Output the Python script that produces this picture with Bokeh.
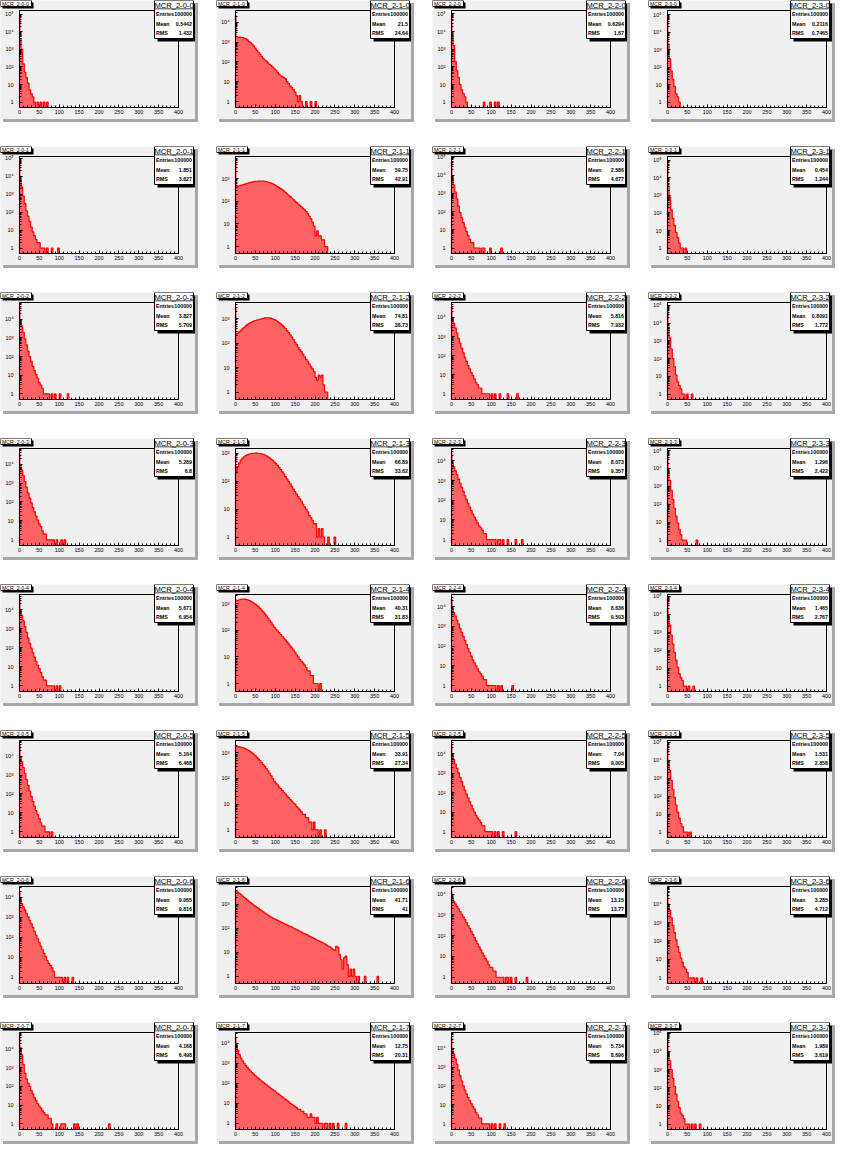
import numpy as np
from bokeh.plotting import figure
from bokeh.layouts import column, row
from bokeh.models import Range1d, FixedTicker, BoxAnnotation, Label, BasicTickFormatter
from bokeh.embed import file_html
from bokeh.resources import INLINE

# ---------------- data (counts per unit-wide bin) -------------
# bin k covers [BIN_EDGES[k], BIN_EDGES[k+1])
BIN_EDGES = [0, 1] + list(range(4, 404, 4))

h_2_0_0 = [87000, 4000, 1000, 150, 50, 25, 12, 5, 3, 2, 1, 0, 1, 0, 1, 0, 1, 0, 1]
h_2_1_0 = [23000, 1800, 1800, 1780, 1750, 1700, 1600, 1500, 1300, 1100, 950, 800, 650, 500, 380, 300,
           240, 190, 150, 125, 110, 90, 75, 65, 55, 45, 38, 30, 24, 20, 18, 16, 14, 10, 8, 6, 5, 4, 3,
           2, 1, 2, 1, 0, 0, 1, 0, 0, 1, 0, 0, 1]
h_2_2_0 = [85000, 5000, 1600, 200, 60, 25, 10, 5, 3, 2, 1, 0, 0, 0, 0, 0, 0, 0, 0, 0, 0, 1, 0, 0, 0,
           1, 0, 0, 1, 0, 1]
h_2_3_0 = [93000, 2000, 300, 60, 20, 8, 3, 2, 1]

h_2_0_1 = [70000, 6000, 2500, 800, 300, 120, 60, 30, 15, 8, 5, 3, 2, 2, 1, 1, 1, 0, 1, 0, 0, 1, 0, 0, 0, 1]
h_2_1_1 = [5900, 430, 455, 480, 505, 530, 555, 590, 625, 655, 680, 705, 730, 750, 765, 775, 780, 785,
           780, 765, 740, 710, 670, 630, 585, 540, 490, 445, 400, 360, 325, 285, 250, 215, 185, 160,
           140, 120, 102, 88, 76, 66, 57, 49, 42, 36, 29, 22, 17, 12, 8, 3, 5, 3, 3, 2, 2, 1, 1]
h_2_2_1 = [60000, 7000, 3000, 1200, 500, 200, 90, 45, 25, 14, 8, 5, 3, 2, 2, 1, 1, 1, 1, 0, 1, 1, 0, 0,
           0, 1, 0, 0, 0, 0, 0, 0, 1]
h_2_3_1 = [88000, 3500, 800, 150, 50, 20, 8, 4, 2, 1, 1, 0, 1]

h_2_0_2 = [45000, 9000, 4500, 2000, 900, 420, 200, 100, 55, 30, 18, 11, 7, 4, 3, 2, 1, 1, 1, 1, 0, 1,
           0, 1, 0, 0, 1, 0, 0, 0, 0, 1]
h_2_1_2 = [3000, 240, 260, 300, 340, 390, 440, 510, 580, 640, 700, 750, 800, 850, 880, 920, 960, 1000,
           1040, 1080, 1100, 1100, 1080, 1040, 980, 920, 860, 780, 700, 620, 540, 470, 400, 330, 270,
           220, 180, 140, 110, 90, 70, 55, 45, 36, 28, 22, 18, 14, 11, 9, 7, 4, 3, 5, 4, 5, 2, 1, 1]
h_2_2_2 = [35000, 9000, 5000, 2800, 1500, 800, 450, 250, 140, 80, 50, 30, 20, 13, 9, 6, 4, 3, 2, 2, 1,
           1, 1, 1, 1, 0, 1, 0, 1, 0, 0, 1, 0, 0, 0, 0, 1, 0, 0, 0, 0, 0, 1]
h_2_3_2 = [80000, 6000, 1500, 350, 100, 35, 12, 5, 3, 2, 1, 1, 0, 1, 0, 0, 1]

h_2_0_3 = [38000, 9000, 5000, 2500, 1200, 600, 300, 160, 90, 50, 30, 18, 11, 7, 5, 3, 2, 2, 1, 1, 1, 1,
           1, 0, 1, 0, 0, 1, 0, 1]
h_2_1_3 = [750, 200, 330, 450, 560, 660, 740, 810, 870, 920, 950, 975, 990, 1000, 1000, 990, 970, 945,
           900, 850, 800, 740, 680, 610, 550, 480, 420, 365, 310, 260, 215, 180, 145, 120, 98, 80, 64,
           52, 42, 34, 28, 23, 19, 15, 12, 10, 8, 6, 5, 4, 3, 3, 1, 2, 1, 2, 1, 0, 0, 1, 0, 0, 0, 1]
h_2_2_3 = [25000, 8000, 5000, 3200, 2000, 1200, 750, 450, 280, 170, 110, 70, 45, 30, 20, 14, 10, 7, 5,
           4, 3, 2, 2, 1, 1, 1, 1, 1, 1, 0, 1, 1, 0, 1, 0, 0, 1, 0, 0, 0, 0, 1, 0, 0, 0, 1]
h_2_3_3 = [72000, 7500, 2200, 600, 180, 60, 22, 9, 4, 2, 1, 1, 1, 0, 0, 0, 0, 0, 0, 1]

h_2_0_4 = [36000, 9000, 5000, 2600, 1300, 650, 330, 170, 95, 55, 32, 19, 12, 8, 5, 3, 2, 2, 1, 1, 1, 1,
           1, 0, 1, 0, 1]
h_2_1_4 = [1500, 1250, 1350, 1420, 1470, 1500, 1500, 1470, 1420, 1350, 1270, 1170, 1070, 970, 870,
           770, 670, 580, 500, 420, 350, 290, 240, 200, 160, 130, 110, 95, 82, 70, 60, 51, 44, 37, 31,
           26, 22, 18, 15, 12, 10, 8, 7, 6, 5, 4, 3, 3, 2, 2, 1, 1, 1, 0, 1]
h_2_2_4 = [24000, 8000, 5000, 3300, 2100, 1300, 800, 500, 310, 190, 120, 75, 48, 31, 20, 14, 10, 7, 5,
           4, 3, 2, 2, 1, 1, 1, 1, 1, 1, 0, 1, 0, 1, 0, 0, 0, 0, 0, 0, 1]
h_2_3_4 = [70000, 8000, 2500, 700, 220, 75, 28, 11, 5, 3, 2, 1, 1, 0, 1, 0, 0, 1]

h_2_0_5 = [38000, 9000, 5000, 2500, 1200, 580, 280, 140, 75, 40, 23, 13, 8, 5, 3, 2, 2, 1, 1, 1, 0, 1]
h_2_1_5 = [2000, 1750, 1750, 1720, 1670, 1600, 1520, 1420, 1320, 1210, 1100, 990, 880, 770, 670, 580,
           500, 420, 350, 295, 245, 200, 160, 128, 100, 78, 66, 56, 47, 40, 34, 29, 25, 21, 18, 15, 13,
           11, 10, 8, 7, 6, 5, 4, 4, 3, 3, 2, 2, 1, 2, 1, 1, 0, 1, 0, 0, 1]
h_2_2_5 = [28000, 8500, 5000, 3000, 1800, 1050, 620, 370, 220, 135, 85, 55, 35, 23, 15, 10, 7, 5, 4, 3,
           2, 2, 1, 1, 1, 1, 1, 0, 1, 0, 1, 0, 0, 1, 0, 0, 0, 0, 0, 0, 0, 1]
h_2_3_5 = [68000, 8500, 2700, 750, 240, 85, 32, 13, 6, 3, 2, 1, 1, 1, 0, 1]

h_2_0_6 = [20000, 7000, 4800, 3300, 2300, 1550, 1050, 700, 470, 310, 200, 130, 85, 55, 36, 24, 16, 11,
           7, 5, 4, 3, 2, 1, 1, 1, 1, 1, 0, 1, 0, 1, 0, 0, 1]
h_2_1_6 = [3600, 3500, 3200, 2900, 2550, 2250, 2000, 1750, 1550, 1350, 1200, 1060, 950, 850, 760, 680,
           610, 545, 490, 440, 395, 355, 325, 295, 270, 250, 232, 215, 200, 186, 173, 160, 150, 139,
           128, 120, 112, 104, 96, 89, 82, 76, 70, 64, 60, 56, 52, 48, 44, 41, 38, 35, 32, 30, 28, 26,
           24, 22, 20, 18, 17, 15, 13, 12, 18, 16, 8, 5, 2, 6, 7, 3, 1, 2, 1, 2, 1, 0, 1, 0, 0, 0, 1,
           0, 0, 0, 0, 0, 0, 0, 1]
h_2_2_6 = [14000, 6000, 4500, 3400, 2600, 1950, 1450, 1080, 800, 590, 430, 310, 225, 160, 115, 82, 58,
           41, 29, 21, 15, 11, 8, 6, 4, 3, 3, 2, 2, 1, 1, 1, 1, 1, 0, 1, 1, 0, 1, 0, 0, 1, 0, 0, 0, 0,
           0, 0, 1]
h_2_3_6 = [50000, 10000, 4500, 1800, 700, 280, 115, 50, 24, 12, 7, 4, 3, 2, 1, 1, 1, 1, 0, 1, 0, 0, 1]

h_2_0_7 = [43000, 12000, 5000, 1500, 500, 250, 150, 100, 60, 40, 25, 18, 12, 9, 7, 5, 4, 3, 3, 2, 2, 1,
           0, 0, 1, 0, 0, 1, 1, 1, 0, 0, 0, 0, 0, 1, 0, 1, 0, 0, 0, 0, 0, 0, 0, 0, 0, 0, 0, 0, 0, 0,
           0, 0, 0, 0, 0, 1]
h_2_1_7 = [20000, 8000, 4500, 2700, 1800, 1300, 1000, 780, 620, 500, 410, 340, 285, 240, 205, 175, 150,
           130, 112, 97, 84, 73, 63, 55, 48, 42, 36, 32, 28, 24, 21, 18, 16, 14, 12, 10, 9, 8, 7, 6,
           5, 5, 4, 4, 3, 3, 2, 2, 3, 2, 2, 1, 2, 1, 1, 1, 0, 1, 1, 0, 1, 0, 1, 0, 0, 1, 0, 0, 0, 0, 1]
h_2_2_7 = [38000, 9000, 5000, 2700, 1400, 700, 350, 180, 100, 60, 38, 25, 17, 12, 8, 6, 4, 3, 2, 2, 1,
           1, 1, 1, 1, 0, 1, 0, 1, 0, 0, 1, 0, 0, 1]
h_2_3_7 = [62000, 9500, 3200, 1000, 330, 120, 45, 18, 8, 4, 3, 2, 1, 1, 1, 0, 1, 0, 1, 0, 0, 1]

# statistics boxes (per module, channels 0..7)
mean_2_0 = ["0.5442", "1.851", "3.827", "5.289", "5.671", "5.164", "9.065", "4.168"]
rms_2_0 = ["1.432", "3.627", "5.709", "6.8", "6.954", "6.468", "9.816", "6.498"]
mean_2_1 = ["21.5", "59.75", "74.81", "66.89", "40.31", "33.91", "41.71", "12.75"]
rms_2_1 = ["24.64", "42.91", "38.73", "33.62", "31.83", "27.34", "41", "20.31"]
mean_2_2 = ["0.6294", "2.586", "5.816", "8.073", "8.636", "7.04", "13.15", "5.734"]
rms_2_2 = ["1.67", "4.677", "7.932", "9.357", "9.503", "9.005", "13.77", "8.696"]
mean_2_3 = ["0.2116", "0.454", "0.8091", "1.296", "1.465", "1.531", "3.285", "1.989"]
rms_2_3 = ["0.7465", "1.244", "1.772", "2.422", "2.767", "2.858", "4.712", "3.619"]
entries = "100000"

modules = ["2-0", "2-1", "2-2", "2-3"]
channels = ["0", "1", "2", "3", "4", "5", "6", "7"]

x_ticks = [0, 50, 100, 150, 200, 250, 300, 350, 400]
x_tick_labels = ["0", "50", "100", "150", "200", "250", "300", "350", "400"]
y_ticks = [1, 10, 100, 1000, 10000, 100000]
y_tick_labels = ["1", "10", "10\u00b2", "10\u00b3", "10\u2074", "10\u2075"]

hists = [
    [h_2_0_0, h_2_1_0, h_2_2_0, h_2_3_0],
    [h_2_0_1, h_2_1_1, h_2_2_1, h_2_3_1],
    [h_2_0_2, h_2_1_2, h_2_2_2, h_2_3_2],
    [h_2_0_3, h_2_1_3, h_2_2_3, h_2_3_3],
    [h_2_0_4, h_2_1_4, h_2_2_4, h_2_3_4],
    [h_2_0_5, h_2_1_5, h_2_2_5, h_2_3_5],
    [h_2_0_6, h_2_1_6, h_2_2_6, h_2_3_6],
    [h_2_0_7, h_2_1_7, h_2_2_7, h_2_3_7],
]
means = [mean_2_0, mean_2_1, mean_2_2, mean_2_3]
rmss = [rms_2_0, rms_2_1, rms_2_2, rms_2_3]

# ---------------- styling / geometry ----------------
PAD = "#f0f0f0"
BEVEL = "#a8a8a8"
FILL = "#ff6262"
LINE = "#ff0000"
FONT = "Liberation Sans"
Y_MIN = 0.5

COL_W = [216, 216, 216, 184]
ROW_H = [146, 146, 146, 146, 146, 146, 146, 119]
FIG_W = 195
FIG_H = 119
FX0, FXW = 19, 159     # canvas x of x=0, pixel width of 0..400
FY0, FYH = 10, 97      # canvas y of the top of the histogram frame, its pixel height
STATS_LEFT = [154, 154, 154, 142]   # the last column is narrower, like the cut-off original


def add_box(p, cx0, cy0, cx1, cy1, fill, line=None):
    p.add_layout(BoxAnnotation(
        left=cx0, right=cx1, top=FIG_H - cy0, bottom=FIG_H - cy1,
        left_units="screen", right_units="screen", top_units="screen", bottom_units="screen",
        fill_color=fill, fill_alpha=1.0,
        line_color=line if line else None, line_alpha=1.0, line_width=1,
        level="annotation"))


def add_text(p, cx, cy, text, size, align="left", bold=False):
    p.add_layout(Label(
        x=cx, y=FIG_H - cy, x_units="screen", y_units="screen", text=text,
        text_font=FONT, text_font_size=size, text_align=align, text_baseline="middle",
        text_font_style="bold" if bold else "normal", text_color="black"))


def make_panel(r, c):
    counts = hists[r][c]
    name = "MCR_" + modules[c] + "-" + channels[r]
    fig_w = min(FIG_W, COL_W[c])
    top_log = np.log10(max(counts))
    y_top = 10 ** (top_log + 0.05 * (top_log - np.log10(Y_MIN)))

    # the whole pad is the plot area; axes sit at fixed positions inside it
    upp = 400.0 / FXW
    x_range = Range1d(-FX0 * upp, 400 + (fig_w - FX0 - FXW) * upp)
    lo, hi = np.log10(Y_MIN), np.log10(y_top)
    dpp = (hi - lo) / FYH
    y_range = Range1d(10 ** (lo - (FIG_H - FY0 - FYH) * dpp), 10 ** (hi + FY0 * dpp))

    p = figure(width=fig_w, height=FIG_H, x_range=x_range, y_range=y_range,
               y_axis_type="log", output_backend="svg", toolbar_location=None,
               min_border_left=0, min_border_right=0, min_border_top=0, min_border_bottom=0,
               background_fill_color=PAD, border_fill_color=PAD, outline_line_color=None,
               margin=(0, COL_W[c] - fig_w, ROW_H[r] - FIG_H, 0),
               styles={"box-shadow": "3px 3px 0px " + BEVEL})
    p.grid.visible = False

    # histogram
    n = len(counts)
    xs, ys = [BIN_EDGES[0]], [Y_MIN]
    for i in range(n):
        v = counts[i] if counts[i] > 0 else Y_MIN
        xs += [BIN_EDGES[i], BIN_EDGES[i + 1]]
        ys += [v, v]
    xs += [BIN_EDGES[n]]
    ys += [Y_MIN]
    p.patch(xs, ys, fill_color=FILL, line_color=None)
    p.line(xs + [400], ys + [Y_MIN], line_color=LINE, line_width=1.2)

    # histogram frame
    p.add_layout(BoxAnnotation(left=0, right=400, bottom=Y_MIN, top=y_top, fill_color=None,
                               line_color="black", line_width=1, line_alpha=1.0, level="underlay"))

    # axes
    xa, ya = p.xaxis[0], p.yaxis[0]
    xa.fixed_location = Y_MIN
    ya.fixed_location = 0
    xa.bounds = (0, 400)
    ya.bounds = (Y_MIN, y_top)
    xa.ticker = FixedTicker(ticks=x_ticks, minor_ticks=list(range(0, 401, 10)))
    xa.major_label_overrides = dict(zip(x_ticks, x_tick_labels))
    minors = [m * 10.0 ** d for d in range(0, 6) for m in range(2, 10) if m * 10.0 ** d < y_top]
    ya.ticker = FixedTicker(ticks=[t for t in y_ticks if t < y_top], minor_ticks=minors)
    ya.formatter = BasicTickFormatter()
    ya.major_label_overrides = dict(zip(y_ticks, y_tick_labels))
    for ax in (xa, ya):
        ax.axis_line_color = "black"
        ax.axis_line_width = 1
        ax.major_tick_in = 3
        ax.major_tick_out = 0
        ax.minor_tick_in = 2
        ax.minor_tick_out = 0
        ax.major_tick_line_color = "black"
        ax.minor_tick_line_color = "black"
        ax.major_label_text_font = FONT
        ax.major_label_text_font_size = "5.5px"
        ax.major_label_text_color = "black"
    xa.major_label_standoff = 2
    ya.major_label_standoff = 6

    # title box (top left)
    add_box(p, 2, 2, 33, 8, "black")
    add_box(p, 0, 0, 31, 6, "white", "black")
    add_text(p, 1.5, 3.4, name, "5.2px")

    # stats box (top right)
    sl = STATS_LEFT[c]
    add_box(p, sl + 3, 3, sl + 43, 41, "black")
    add_box(p, sl, 0, sl + 39, 38, "white", "black")
    add_box(p, sl, 8, sl + 39, 8.8, "black")
    add_text(p, sl + 19.5, 4.6, name, "7.6px", align="center")
    add_text(p, sl + 1.5, 13.5, "Entries", "5.3px", bold=True)
    add_text(p, sl + 37.5, 13.5, entries, "5.3px", align="right", bold=True)
    add_text(p, sl + 1.5, 23.3, "Mean", "5.3px", bold=True)
    add_text(p, sl + 37.5, 23.3, means[c][r], "5.3px", align="right", bold=True)
    add_text(p, sl + 1.5, 32.5, "RMS", "5.3px", bold=True)
    add_text(p, sl + 37.5, 32.5, rmss[c][r], "5.3px", align="right", bold=True)
    return p


rows = []
for r in range(8):
    rows.append(row(*[make_panel(r, c) for c in range(4)]))
layout = column(*rows)

open("out.html", "w").write(file_html(layout, INLINE, title="MCR"))
